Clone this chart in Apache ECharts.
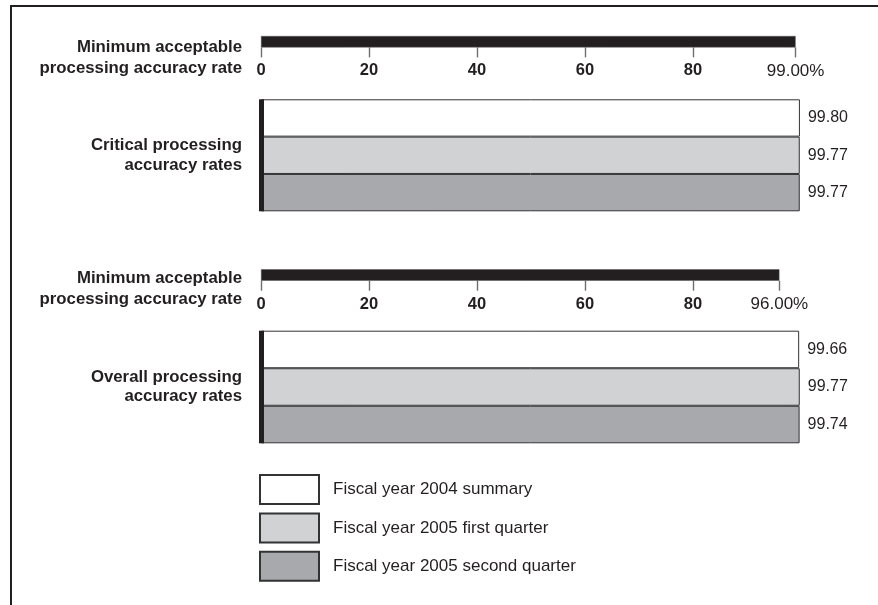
<!DOCTYPE html>
<html>
<head>
<meta charset="utf-8">
<script src="https://cdn.jsdelivr.net/npm/echarts@6/dist/echarts.min.js"></script>
<style>
html,body{margin:0;padding:0;background:#fff;}
#wrap{position:relative;width:878px;height:605px;overflow:hidden;}
#frame{position:absolute;left:10px;top:5px;right:0;bottom:-5px;border-top:2px solid #231f20;border-left:2px solid #231f20;}
#chart{position:absolute;left:0;top:0;width:878px;height:605px;}
</style>
</head>
<body>
<div id="wrap"><div id="frame"></div><div id="chart"></div></div>
<script>
// ---- data ----
const minLabelLines = ['Minimum acceptable', 'processing accuracy rate'];
const groupLabels = ['Critical processing\naccuracy rates', 'Overall processing\naccuracy rates'];
const minRates = [99.00, 96.00];
const seriesNames = ['Fiscal year 2004 summary', 'Fiscal year 2005 first quarter', 'Fiscal year 2005 second quarter'];
const criticalRates = [99.80, 99.77, 99.77];
const overallRates = [99.66, 99.77, 99.74];
const tickValues = [0, 20, 40, 60, 80];
const barColors = ['#ffffff', '#d1d2d4', '#a7a9ac'];

const FONT = '"Liberation Sans", Arial, Helvetica, sans-serif';
const INK = '#231f20';
const chart = echarts.init(document.getElementById('chart'), null, {renderer: 'canvas'});

const grids = [
  {left: 261, width: 540, top: 36, height: 11.4},
  {left: 261, width: 540, top: 99.3, height: 112},
  {left: 261, width: 540, top: 269.3, height: 11.4},
  {left: 261, width: 540, top: 330.7, height: 112.6}
];

const xAxes = [];
const yAxes = [];
const series = [];

function minAxis(gi, rate, spacer) {
  const vals = tickValues.concat([rate]);
  xAxes.push({
    gridIndex: gi, type: 'value', min: 0, max: 100, position: 'bottom',
    axisLine: {show: false}, splitLine: {show: false},
    axisTick: {show: true, length: 10, customValues: vals, lineStyle: {color: '#6d6e71', width: 1.4}},
    axisLabel: {
      show: true, margin: 15, customValues: vals,
      formatter: v => (Math.abs(v - rate) < 1e-9 ? '{n|' + v.toFixed(2) + '%}' : '{b|' + v + '}'),
      rich: {
        b: {fontFamily: FONT, fontSize: 16.5, fontWeight: 'bold', color: INK},
        n: {fontFamily: FONT, fontSize: 17, fontWeight: 'normal', color: INK}
      }
    }
  });
  yAxes.push({
    gridIndex: gi, type: 'category', data: [minLabelLines.join('\n')],
    axisLine: {show: false}, axisTick: {show: false},
    axisLabel: {
      margin: 19, align: 'right',
      formatter: () => '{s| }\n' + minLabelLines.map(t => '{a|' + t + '}').join('\n'),
      rich: {
        s: {fontSize: 4, lineHeight: spacer},
        a: {fontFamily: FONT, fontSize: 16.8, fontWeight: 'bold', color: INK, lineHeight: 21, align: 'right'}
      }
    }
  });
  series.push({
    type: 'bar', xAxisIndex: gi, yAxisIndex: gi, data: [rate], barWidth: '100%',
    itemStyle: {color: INK, borderColor: '#555', borderWidth: 0.5}, silent: true, z: 2
  });
}

function groupAxis(gi, label, values) {
  xAxes.push({gridIndex: gi, type: 'value', min: 0, max: 100, show: false});
  yAxes.push({
    gridIndex: gi, type: 'category', data: [label], inverse: true, z: 10,
    axisLine: {show: true, onZero: false, lineStyle: {color: INK, width: 5, cap: 'butt'}},
    axisTick: {show: false},
    axisLabel: {margin: 19, fontFamily: FONT, fontSize: 16.8, fontWeight: 'bold', color: INK, lineHeight: 19.5, align: 'right'}
  });
  values.forEach((v, i) => {
    series.push({
      name: seriesNames[i], type: 'bar', xAxisIndex: gi, yAxisIndex: gi,
      data: [v], barGap: '0%', barCategoryGap: '0%',
      itemStyle: {color: barColors[i], borderColor: '#333', borderWidth: 1},
      label: {show: true, position: 'right', distance: 8, formatter: p => p.value.toFixed(2),
        fontFamily: FONT, fontSize: 16, color: INK},
      silent: true
    });
  });
}

minAxis(0, minRates[0], 33);
groupAxis(1, groupLabels[0], criticalRates);
minAxis(2, minRates[1], 28);
groupAxis(3, groupLabels[1], overallRates);

chart.setOption({
  animation: false,
  backgroundColor: 'transparent',
  grid: grids,
  xAxis: xAxes,
  yAxis: yAxes,
  legend: {
    data: seriesNames, orient: 'vertical', left: 259, top: 474, padding: 0,
    itemWidth: 59, itemHeight: 29, itemGap: 7.4, icon: 'rect',
    selectedMode: false,
    textStyle: {fontFamily: FONT, fontSize: 17, color: INK, padding: [0, 0, 0, 9]}
  },
  series: series
});
</script>
</body>
</html>
